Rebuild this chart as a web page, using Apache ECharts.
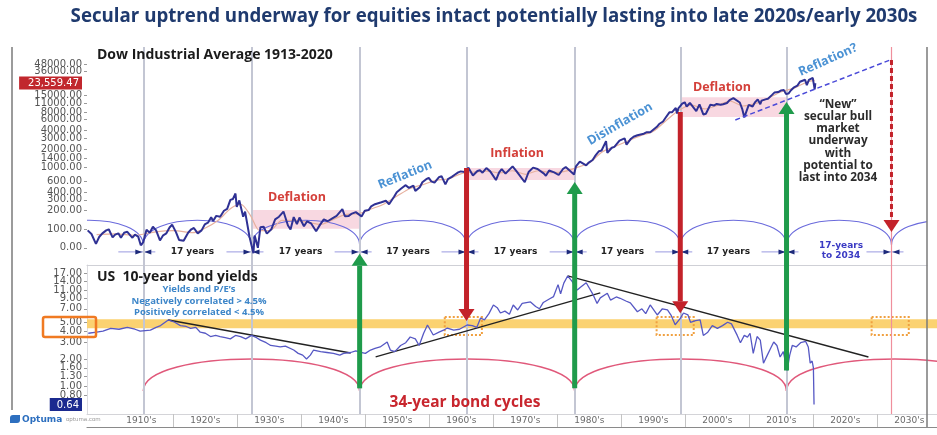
<!DOCTYPE html>
<html>
<head>
<meta charset="utf-8">
<script src="https://cdn.jsdelivr.net/npm/echarts@6/dist/echarts.min.js"></script>
<style>html,body{margin:0;padding:0;background:#fff}#chart{width:937px;height:435px}</style>
</head>
<body>
<div id="chart"></div>
<script>
// ---------------- data ----------------
// Dow Jones Industrial Average, [year, level]
const dow = [
[1906.6,96],[1907.2,84],[1907.9,58],[1908.4,75],[1908.9,86],[1909.5,96],[1909.9,100],[1910.5,74],[1910.9,82],[1911.4,86],[1911.8,73],[1912.3,88],[1912.8,91],[1913.3,79],[1913.6,73],[1914.0,82],[1914.5,76],[1914.9,55],[1915.3,62],[1915.8,98],[1916.3,88],[1916.8,110],[1917.3,96],[1917.9,66],[1918.4,80],[1918.9,86],[1919.4,107],[1919.8,119],[1920.4,90],[1920.9,67],[1921.6,65],[1922.3,88],[1922.8,100],[1923.2,105],[1923.8,86],[1924.4,96],[1924.9,120],[1925.4,128],[1925.9,157],[1926.2,136],[1926.7,165],[1927.3,160],[1927.9,200],[1928.4,215],[1928.9,300],[1929.3,310],[1929.7,381],[1929.9,230],[1930.3,294],[1930.9,160],[1931.2,194],[1931.9,75],[1932.5,41],[1932.7,79],[1933.2,50],[1933.6,108],[1934.1,110],[1934.6,85],[1935.3,100],[1935.9,145],[1936.5,160],[1937.2,194],[1937.9,115],[1938.3,99],[1938.8,158],[1939.3,121],[1939.7,155],[1940.4,112],[1940.9,135],[1941.5,125],[1942.3,93],[1942.9,118],[1943.5,145],[1944.1,135],[1944.9,152],[1945.5,165],[1946.4,212],[1946.8,163],[1947.4,165],[1947.9,180],[1948.5,190],[1949.4,162],[1949.9,200],[1950.5,205],[1950.9,235],[1951.5,255],[1952.5,275],[1953.2,290],[1953.7,255],[1954.5,340],[1954.9,400],[1955.5,450],[1955.9,485],[1956.3,520],[1956.8,470],[1957.5,510],[1957.8,420],[1958.5,480],[1958.9,580],[1959.5,650],[1959.9,680],[1960.3,600],[1960.8,570],[1961.5,700],[1961.9,730],[1962.5,535],[1962.9,650],[1963.5,710],[1963.9,760],[1964.5,840],[1964.9,870],[1965.5,850],[1966.1,995],[1966.8,745],[1967.5,880],[1967.9,905],[1968.3,830],[1968.9,985],[1969.5,870],[1970.4,630],[1970.9,840],[1971.3,950],[1971.9,800],[1972.5,930],[1973.0,1050],[1973.6,880],[1973.9,850],[1974.9,580],[1975.5,850],[1976.2,1000],[1976.9,950],[1977.9,800],[1978.2,740],[1978.7,900],[1979.5,840],[1980.2,760],[1980.9,960],[1981.3,1020],[1982.6,777],[1982.9,1050],[1983.5,1250],[1984.5,1090],[1984.9,1210],[1985.5,1330],[1985.9,1550],[1986.5,1850],[1986.9,1900],[1987.6,2700],[1987.8,1740],[1988.5,2100],[1988.9,2170],[1989.7,2750],[1990.5,2990],[1990.8,2365],[1991.5,2950],[1991.9,3170],[1992.5,3350],[1993.5,3550],[1993.9,3750],[1994.5,3750],[1995.5,4550],[1995.9,5100],[1996.5,5600],[1996.9,6450],[1997.5,7900],[1997.9,7900],[1998.5,9300],[1998.7,7540],[1998.9,9180],[1999.5,10900],[1999.9,11500],[2000.2,9800],[2000.7,11200],[2001.0,10800],[2001.7,8240],[2002.2,10600],[2002.8,7290],[2003.2,7500],[2003.9,10450],[2004.5,10200],[2004.9,10780],[2005.5,10500],[2005.9,10700],[2006.5,11200],[2006.9,12460],[2007.5,13400],[2007.8,14160],[2008.5,11400],[2008.9,8800],[2009.2,6550],[2009.9,10400],[2010.5,9800],[2010.9,11570],[2011.3,12800],[2011.7,10700],[2011.9,12200],[2012.5,12800],[2012.9,13100],[2013.5,15000],[2013.9,16500],[2014.5,16800],[2014.9,17800],[2015.4,18100],[2015.7,15700],[2016.1,15900],[2016.5,18000],[2016.9,19800],[2017.5,21400],[2017.9,24700],[2018.1,26600],[2018.2,23500],[2018.7,26700],[2018.97,21800],[2019.3,26500],[2019.6,25500],[2019.9,28500],[2020.1,29400],[2020.2,18600],[2020.3,23559.47]
];
// smoothed Dow trend
const dowAvg = [
[1908,82],[1911,84],[1914,80],[1917,90],[1920,95],[1923,88],[1925,105],[1927,140],[1929,220],[1930.5,255],[1932,170],[1933.5,95],[1935,95],[1937,140],[1939,140],[1941,130],[1943,120],[1945,145],[1947,175],[1949,180],[1951,215],[1953,260],[1955,350],[1957,460],[1959,530],[1961,620],[1963,660],[1965,800],[1967,850],[1969,880],[1971,820],[1973,890],[1975,780],[1977,890],[1979,830],[1981,860],[1983,1000],[1985,1200],[1987,1800],[1989,2200],[1991,2700],[1993,3300],[1995,3900],[1997,5800],[1999,8500],[2001,10300],[2003,9000],[2005,10200],[2007,12000],[2009,10000],[2011,11000],[2013,13500],[2015,17000],[2017,19500],[2019,24500],[2020.2,26000]
];
// US 10-year bond yield (%), [year, yield]
const yields = [
[1906.7,3.8],[1908,3.9],[1909,4.0],[1910.2,4.3],[1911.5,4.2],[1912.8,4.4],[1914,4.2],[1914.8,4.0],[1916.4,4.1],[1917.3,4.4],[1918,4.6],[1919.2,5.3],[1920.2,5.0],[1921.1,4.6],[1922,4.5],[1922.7,4.3],[1923.5,4.4],[1924.2,3.9],[1925,3.8],[1925.8,3.5],[1926.6,3.6],[1927.3,3.5],[1928.1,3.4],[1928.9,3.3],[1929.7,3.6],[1930.5,3.5],[1931.3,3.3],[1932.2,3.6],[1933,3.4],[1933.6,3.2],[1934.5,3.0],[1935.2,2.8],[1936,2.75],[1936.7,2.7],[1937.5,2.75],[1938.8,2.5],[1939.5,2.3],[1940.2,2.2],[1940.8,2.0],[1941.4,2.2],[1941.9,2.5],[1943,2.4],[1944,2.35],[1945,2.3],[1946,2.2],[1946.6,2.3],[1947.7,2.35],[1948.5,2.45],[1949.1,2.37],[1950,2.3],[1950.8,2.5],[1951.5,2.6],[1952.3,2.7],[1953.4,3.05],[1953.9,2.5],[1954.6,2.4],[1955.5,2.8],[1956.3,3.0],[1957,3.46],[1957.8,3.3],[1958.4,2.8],[1959.1,3.8],[1959.7,4.67],[1960.6,3.64],[1961.5,3.9],[1962.2,4.1],[1962.8,4.33],[1963.8,4.1],[1964.7,4.2],[1965.9,4.67],[1966.7,4.6],[1967.4,4.4],[1968,5.56],[1968.6,5.3],[1969.3,6.2],[1970,7.7],[1970.6,7.2],[1971.1,6.3],[1971.8,6.6],[1972.5,6.1],[1973.1,7.7],[1973.8,6.8],[1974.5,8.0],[1975.8,8.3],[1976.6,7.4],[1977.2,7.0],[1977.8,8.2],[1978.8,9.0],[1979.4,9.5],[1980.1,12.8],[1980.5,10.2],[1981,13.3],[1981.6,15.9],[1982.3,13.9],[1983.1,11.2],[1983.6,12.0],[1984.5,13.4],[1985.6,9.9],[1986.2,8.0],[1986.7,9.2],[1987.8,10.3],[1988.3,8.7],[1989.2,9.4],[1989.8,9.1],[1990.7,8.5],[1991.4,8.1],[1992.5,6.5],[1993.2,7.0],[1993.8,6.2],[1994.5,7.7],[1995.6,6.0],[1996.4,7.0],[1997.2,6.8],[1997.8,5.9],[1998.4,4.7],[1999.2,5.5],[1999.7,6.3],[2000.4,6.0],[2000.8,5.0],[2001.6,5.2],[2002.3,5.3],[2002.8,3.6],[2003.5,3.9],[2004.2,4.6],[2005,4.3],[2005.8,4.6],[2006.6,5.0],[2007.2,4.8],[2007.5,4.9],[2008.1,3.6],[2008.6,3.0],[2009.2,3.6],[2009.7,3.45],[2010.1,3.8],[2010.6,2.3],[2011.2,3.5],[2011.7,3.2],[2012.2,1.8],[2012.8,2.2],[2013.3,2.6],[2013.8,3.05],[2014.3,2.8],[2014.8,2.1],[2015.3,2.4],[2015.9,1.5],[2016.3,2.2],[2016.7,2.8],[2017.3,2.7],[2018,3.0],[2018.8,3.1],[2019.2,2.7],[2019.5,1.8],[2019.8,1.9],[2020.0,1.6],[2020.1,0.64]
];

// 17-year equity cycle turning points (years)
const cycleYears = [1915.3, 1932.2, 1949.1, 1965.8, 1982.7, 1999.2, 2015.8, 2032.2];
const cycleSpanLabels = ['17 years','17 years','17 years','17 years','17 years','17 years','17-years\nto 2034'];
// 34-year bond cycle turning points (years)
const bondCycleYears = [1915.3, 1949.1, 1982.7, 2015.8, 2049.6];
// arc levels: [trough, crest]
const dowArcLevels = [55, 140];
const bondArcLevels = [0.9, 2.0];

// secular regimes: [label, from, to, low, high]
const regimes = [
  ['Deflation', 1932.2, 1949.1, 102, 205],
  ['Inflation', 1965.8, 1982.7, 630, 985],
  ['Deflation', 1999.2, 2015.8, 6600, 13900]
];
// rising channel of the new bull market: [year, Dow]
const dowChannel = [[2007.8, 5940], [2032.0, 55800]];

// arrows: [year, Dow end, yield end]
const downArrows = [[1965.8, 985, 5.16], [1999.2, 8000, 6.25]];
const upArrows = [[1949.1, 40, 0.96], [1982.7, 585, 0.96], [2015.8, 11600, 1.5]];
const projectionArrow = [2032.2, 55800, 90];

// yield trend lines: [[year, yield], [year, yield]]
const yieldTrends = [
  [[1919.2, 5.29], [1947.7, 2.32]],
  [[1951.6, 2.10], [1986.7, 10.4]],
  [[1981.6, 15.9], [2028.6, 2.10]]
];
const pivotBand = [4.3, 5.4];
const pivotZones = [1965.3, 1998.4, 2032.0];
const pivotZoneRange = [3.64, 5.7];

// axis ticks
const dowTicks = [48000,36000,15000,11000,8000,6000,4000,3000,2000,1400,1000,600,400,300,200,100,50];
const dowTickText = ['48000.00','36000.00','15000.00','11000.00','8000.00','6000.00','4000.00','3000.00','2000.00','1400.00','1000.00','600.00','400.00','300.00','200.00','100.00','0.00'];
const dowLast = 23559.47;
const yieldTicks = [17,14,11,9,7,5,4,3,2,1.6,1.3,1,0.8];
const yieldTickText = ['17.00','14.00','11.00','9.00','7.00','5.00','4.00','3.00','2.00','1.60','1.30','1.00','0.80'];
const yieldLast = 0.64;
const decadeBounds = [1920,1930,1940,1950,1960,1970,1980,1990,2000,2010,2020,2030];
const decadeCenters = [1915,1925,1935,1945,1955,1965,1975,1985,1995,2005,2015,2025,2035];
const decadeLabels = ["1910's","1920's","1930's","1940's","1950's","1960's","1970's","1980's","1990's","2000's","2010's","2020's","2030's"];

// ---------------- chart ----------------
const L = Math.log10;
const X_MIN = 1906.5, PX_PER_YEAR = 6.4;
const UP_W = 840, LOW_W = 850;
const X_MAX_UP = X_MIN + UP_W / PX_PER_YEAR;
const X_MAX_LOW = X_MIN + LOW_W / PX_PER_YEAR;
const UP_RANGE = [1.4209, 4.957], LOW_RANGE = [-0.296, 1.320];

const FONT = '"Open Sans", "DejaVu Sans", sans-serif';
const near = (a, b) => Math.abs(a - b) < 1e-6;
const fmt2 = v => v.toLocaleString('en-US', {minimumFractionDigits: 2, maximumFractionDigits: 2});

function tickFormatter(ticks, texts, last, richKey) {
  return function (v) {
    if (near(v, L(last))) return '{' + richKey + '|' + fmt2(last) + '}';
    for (let i = 0; i < ticks.length; i++) if (near(v, L(ticks[i]))) return texts[i];
    return '';
  };
}
// the scale labels sit closely, so they are spread over two stacked axes (alternate labels)
function splitLabels(ticks, last) {
  const all = ticks.concat([last]).sort((a, b) => b - a);
  return [all.filter((_, i) => i % 2 === 0).map(L), all.filter((_, i) => i % 2 === 1).map(L)];
}
const dowLabelSets = splitLabels(dowTicks, dowLast);
const yieldLabelSets = splitLabels(yieldTicks, yieldLast);

const chart = echarts.init(document.getElementById('chart'), null, {renderer: 'canvas'});

function arcSeries(gridIdx, years, levels, color, width, z) {
  const segs = [];
  for (let i = 0; i < years.length - 1; i++) segs.push([years[i], years[i + 1], L(levels[0]), L(levels[1])]);
  return {
    type: 'custom', xAxisIndex: gridIdx, yAxisIndex: gridIdx, clip: true, silent: true, z,
    data: segs, encode: {x: [0, 1], y: [2, 3]},
    renderItem(params, api) {
      const a = api.coord([api.value(0), api.value(2)]);
      const b = api.coord([api.value(1), api.value(2)]);
      const c = api.coord([api.value(0), api.value(3)]);
      const h = (a[1] - c[1]) * 4 / 3;
      return {type: 'bezierCurve',
        shape: {x1: a[0], y1: a[1], x2: b[0], y2: b[1], cpx1: a[0], cpy1: a[1] - h, cpx2: b[0], cpy2: b[1] - h},
        style: {stroke: color, fill: 'none', lineWidth: width}};
    }
  };
}

const spanSegs = cycleYears.slice(0, -1).map((y, i) => [y, cycleYears[i + 1], i]);
const markerLevel = L(43);

function scaleAxis(gridIndex, range, labelValues, tickValues, formatter, rich, showLine) {
  return {gridIndex, type: 'value', position: 'left', offset: 0, min: range[0], max: range[1], splitLine: {show: false},
    axisLine: {show: showLine, onZero: false, lineStyle: {color: '#dcdce0'}},
    axisTick: {show: tickValues.length > 0, customValues: tickValues, length: 3, lineStyle: {color: '#9a9a9a'}},
    axisLabel: {customValues: labelValues, margin: 5, color: '#555', fontSize: 10, fontFamily: 'DejaVu Sans',
      hideOverlap: false, showMinLabel: true, showMaxLabel: true, formatter, rich}};
}
const dowFmt = tickFormatter(dowTicks, dowTickText, dowLast, 'hl');
const yieldFmt = tickFormatter(yieldTicks, yieldTickText, yieldLast, 'lo');
const dowRich = {hl: {backgroundColor: '#c1272d', color: '#fff', fontSize: 10, fontFamily: 'DejaVu Sans', padding: [2, 3, 1, 9]}};
const yieldRich = {lo: {backgroundColor: '#1b2a8f', color: '#fff', fontSize: 10, fontFamily: 'DejaVu Sans', padding: [2, 3, 1, 7]}};

const option = {
  animation: false,
  textStyle: {fontFamily: FONT},
  grid: [
    {left: 87, top: 47, width: UP_W, height: 218, outerBoundsMode: 'none'},
    {left: 87, top: 265, width: LOW_W, height: 149, outerBoundsMode: 'none'},
    {left: 87, top: 414, width: LOW_W, height: 13, outerBoundsMode: 'none'}
  ],
  xAxis: [
    {gridIndex: 0, type: 'value', min: X_MIN, max: X_MAX_UP, axisLine: {show: true, onZero: false, lineStyle: {color: '#cfd0d6', width: 1}},
      axisTick: {show: false}, axisLabel: {show: false}, splitLine: {show: false}},
    {gridIndex: 1, type: 'value', min: X_MIN, max: X_MAX_LOW, axisLine: {show: true, onZero: false, lineStyle: {color: '#d4d4d8', width: 1}},
      axisTick: {show: false}, axisLabel: {show: false}, splitLine: {show: false}},
    {gridIndex: 2, type: 'value', min: X_MIN, max: X_MAX_LOW, axisLine: {show: true, onZero: false, lineStyle: {color: '#8a8a8a', width: 1.2}},
      axisTick: {show: true, customValues: decadeBounds, inside: true, length: 13, lineStyle: {color: '#c4c4c4'}},
      axisLabel: {customValues: decadeCenters, inside: true, margin: 2, color: '#6a6a6a', fontSize: 9, fontFamily: 'DejaVu Sans',
        hideOverlap: false, showMinLabel: true, showMaxLabel: true,
        formatter: v => decadeLabels[decadeCenters.findIndex(c => near(c, v))] || ''},
      splitLine: {show: false}}
  ],
  yAxis: [
    scaleAxis(0, UP_RANGE, dowLabelSets[0], dowTicks.map(L), dowFmt, dowRich, false),
    scaleAxis(1, LOW_RANGE, yieldLabelSets[0], yieldTicks.map(L), yieldFmt, yieldRich, true),
    {gridIndex: 2, type: 'value', min: 0, max: 1, show: false},
    scaleAxis(0, UP_RANGE, dowLabelSets[1], [], dowFmt, dowRich, false),
    scaleAxis(1, LOW_RANGE, yieldLabelSets[1], [], yieldFmt, yieldRich, false)
  ],
  series: [
    // cycle verticals, upper panel
    {type: 'line', xAxisIndex: 0, yAxisIndex: 0, data: [], z: 1, silent: true,
      markLine: {silent: true, symbol: ['none', 'none'], label: {show: false},
        data: cycleYears.map((y, i) => ({xAxis: y, lineStyle: i === cycleYears.length - 1
          ? {color: '#ef8f9c', width: 1.2, type: 'solid'} : {color: '#c3c6d3', width: 2, type: 'solid'}}))}},
    // cycle verticals, lower panel
    {type: 'line', xAxisIndex: 1, yAxisIndex: 1, data: [], z: 1, silent: true,
      markLine: {silent: true, symbol: ['none', 'none'], label: {show: false},
        data: cycleYears.map((y, i) => ({xAxis: y, lineStyle: i === cycleYears.length - 1
          ? {color: '#ef8f9c', width: 1.2, type: 'solid'} : {color: '#c3c6d3', width: 2, type: 'solid'}}))}},
    // regime shading
    {type: 'line', xAxisIndex: 0, yAxisIndex: 0, data: [], z: 1, silent: true,
      markArea: {silent: true, label: {show: false}, itemStyle: {color: 'rgba(240,168,188,0.45)'},
        data: regimes.map(r => [{xAxis: r[1], yAxis: L(r[4])}, {xAxis: r[2], yAxis: L(r[3])}])}},
    // pivot band and zones, lower panel
    {type: 'line', xAxisIndex: 1, yAxisIndex: 1, data: [], z: 1, silent: true,
      markArea: {silent: true, label: {show: false},
        data: [[{xAxis: X_MIN, yAxis: L(pivotBand[1]), itemStyle: {color: '#fbd271'}}, {xAxis: X_MAX_LOW, yAxis: L(pivotBand[0])}]]
          .concat(pivotZones.map(c => [{xAxis: c - 2.9, yAxis: L(pivotZoneRange[1]),
            itemStyle: {color: 'rgba(0,0,0,0)', borderColor: '#f0a040', borderWidth: 2, borderType: 'dotted'}},
            {xAxis: c + 2.9, yAxis: L(pivotZoneRange[0])}]))}},
    arcSeries(0, [1898.4].concat(cycleYears, [2049.1]), dowArcLevels, '#6b6bdc', 1.1, 3),
    arcSeries(1, bondCycleYears, bondArcLevels, '#e0587a', 1.5, 3),
    // dimension markers at cycle lines
    {type: 'custom', xAxisIndex: 0, yAxisIndex: 0, silent: true, z: 4, data: cycleYears.map(y => [y, markerLevel]),
      renderItem(params, api) {
        const p = api.coord([api.value(0), api.value(1)]);
        return {type: 'group', children: [
          {type: 'line', shape: {x1: p[0] - 25, y1: p[1], x2: p[0] + 12, y2: p[1]}, style: {stroke: '#9a9ae0', lineWidth: 1}},
          {type: 'polygon', shape: {points: [[p[0] - 8, p[1] - 2.5], [p[0] - 8, p[1] + 2.5], [p[0] - 1, p[1]]]}, style: {fill: '#1d2a7a'}},
          {type: 'polygon', shape: {points: [[p[0] + 8, p[1] - 2.5], [p[0] + 8, p[1] + 2.5], [p[0] + 1, p[1]]]}, style: {fill: '#1d2a7a'}}
        ]};
      }},
    // span labels between cycle lines
    {type: 'custom', xAxisIndex: 0, yAxisIndex: 0, silent: true, z: 4, data: spanSegs.map(s => [s[0], s[1], s[2]]),
      renderItem(params, api) {
        const a = api.coord([api.value(0), markerLevel]);
        const b = api.coord([api.value(1), markerLevel]);
        const idx = api.value(2);
        const last = idx === spanSegs.length - 1;
        return {type: 'text', x: (a[0] + b[0]) / 2 - (last ? -2 : 5), y: a[1] - (last ? 1 : 0),
          style: {text: cycleSpanLabels[idx], fill: last ? '#3b3bc4' : '#222', font: 'bold 9px "DejaVu Sans", sans-serif',
            align: 'center', verticalAlign: 'middle', lineHeight: 10}};
      }},
    // Dow smoothed trend
    {type: 'line', xAxisIndex: 0, yAxisIndex: 0, z: 5, showSymbol: false, silent: true, smooth: 0.3,
      data: dowAvg.map(d => [d[0], L(d[1])]), lineStyle: {color: '#e7b09e', width: 1.2}},
    // Dow
    {type: 'line', xAxisIndex: 0, yAxisIndex: 0, z: 6, showSymbol: false, silent: true,
      data: dow.map(d => [d[0], L(d[1])]), lineStyle: {color: '#2f3194', width: 2}},
    // rising channel
    {type: 'line', xAxisIndex: 0, yAxisIndex: 0, z: 6, showSymbol: false, silent: true,
      data: dowChannel.map(d => [d[0], L(d[1])]), lineStyle: {color: '#4a4ad8', width: 1.5, type: [5, 3]}},
    // yield trend lines
    ...yieldTrends.map(t => ({type: 'line', xAxisIndex: 1, yAxisIndex: 1, z: 6, showSymbol: false, silent: true,
      data: t.map(d => [d[0], L(d[1])]), lineStyle: {color: '#222', width: 1.3}})),
    // 10-year yield
    {type: 'line', xAxisIndex: 1, yAxisIndex: 1, z: 7, showSymbol: false, silent: true,
      data: yields.map(d => [d[0], L(d[1])]), lineStyle: {color: '#5658c4', width: 1.3}}
  ]
};
chart.setOption(option);

// ---------------- annotations ----------------
const p0 = (x, v) => chart.convertToPixel({gridIndex: 0}, [x, L(v)]);
const p1 = (x, v) => chart.convertToPixel({gridIndex: 1}, [x, L(v)]);

function arrow(x, yFrom, yTip, color, dashed) {
  const dir = yTip > yFrom ? 1 : -1;
  const headLen = 12, headHalf = 8, shaft = 5;
  const yBase = yTip - dir * headLen;
  const kids = [];
  if (dashed) {
    kids.push({type: 'line', z: 60, shape: {x1: x, y1: yFrom, x2: x, y2: yBase}, style: {stroke: color, lineWidth: 3, lineDash: [5, 3]}});
  } else {
    kids.push({type: 'rect', z: 60, shape: {x: x - shaft / 2, y: Math.min(yFrom, yBase), width: shaft, height: Math.abs(yBase - yFrom)}, style: {fill: color}});
  }
  kids.push({type: 'polygon', z: 60, shape: {points: [[x - headHalf, yBase], [x + headHalf, yBase], [x, yTip]]}, style: {fill: color}});
  return {type: 'group', z: 60, children: kids};
}

const g = [];
downArrows.forEach(a => {
  const top = p0(a[0], a[1]), tip = p1(a[0], a[2]);
  g.push(arrow(top[0], top[1], tip[1], '#c3222a', false));
});
upArrows.forEach(a => {
  const tip = p0(a[0], a[1]), bot = p1(a[0], a[2]);
  g.push(arrow(tip[0], bot[1], tip[1], '#1f9b4b', false));
});
{
  const top = p0(projectionArrow[0], projectionArrow[1]), tip = p0(projectionArrow[0], projectionArrow[2]);
  g.push(arrow(top[0], top[1], tip[1], '#c3222a', true));
}

function txt(text, x, y, font, fill, opts) {
  return Object.assign({type: 'text', z: 70, x, y,
    style: Object.assign({text, font, fill, align: 'center', verticalAlign: 'middle'}, (opts && opts.style) || {})},
    opts && opts.rotation !== undefined ? {rotation: opts.rotation} : {});
}
const deg = d => d * Math.PI / 180;
const RED = '#d4403a', BLUE = '#4b92d4';
const annFont = 'bold 12.5px ' + FONT;

g.push(txt('Secular uptrend underway for equities intact potentially lasting into late 2020s/early 2030s', 494, 17,
  'bold 18.7px "Open Sans", sans-serif', '#1f3a6e'));
g.push(txt('Dow Industrial Average 1913-2020', 97, 55, 'bold 14px ' + FONT, '#1b1b1b', {style: {align: 'left'}}));
g.push(txt('Deflation', 297, 197, annFont, RED));
g.push(txt('Reflation', 405, 175, annFont, BLUE, {rotation: deg(22)}));
g.push(txt('Inflation', 517, 153, annFont, RED));
g.push(txt('Disinflation', 620, 124, annFont, BLUE, {rotation: deg(30)}));
g.push(txt('Deflation', 722, 87, annFont, RED));
g.push(txt('Reflation?', 828, 60, annFont, BLUE, {rotation: deg(24)}));
g.push(txt('\u201CNew\u201D\nsecular bull\nmarket\nunderway\nwith\npotential to\nlast into 2034', 838, 98,
  'bold 11.8px ' + FONT, '#2b2b2b', {style: {verticalAlign: 'top', lineHeight: 12.3}}));

g.push(txt('US  10-year bond yields', 97, 277, 'bold 14px ' + FONT, '#1b1b1b', {style: {align: 'left'}}));
g.push(txt('Yields and P/E\u2019s', 199, 289, 'bold 9.5px ' + FONT, '#3d86c9'));
g.push(txt('Negatively correlated > 4.5%', 199, 301, 'bold 9.5px ' + FONT, '#3d86c9'));
g.push(txt('Positively correlated < 4.5%', 199, 312, 'bold 9.5px ' + FONT, '#3d86c9'));
g.push(txt('34-year bond cycles', 465, 403, 'bold 15.5px ' + FONT, '#c8262e'));

// outline around the 4-5% yield labels
{
  const a = p1(X_MIN, pivotZoneRange[1]), b = p1(X_MIN, 3.46);
  g.push({type: 'rect', z: 70, shape: {x: 43, y: a[1], width: 53, height: b[1] - a[1], r: 2},
    style: {fill: 'none', stroke: '#f07a22', lineWidth: 2.5}});
}
// frame
g.push({type: 'line', z: 40, shape: {x1: 12, y1: 47, x2: 12, y2: 410}, style: {stroke: '#7a7a7a', lineWidth: 1.5}});
g.push({type: 'line', z: 40, shape: {x1: 927, y1: 47, x2: 927, y2: 427}, style: {stroke: '#7a7a7a', lineWidth: 1.5}});
// vendor mark
g.push({type: 'rect', z: 70, shape: {x: 10, y: 415, width: 10, height: 8, r: [3, 0, 3, 0]}, style: {fill: '#2d6fbf'}});
g.push(txt('Optuma', 22, 419.5, 'bold 9px "DejaVu Sans", sans-serif', '#2d6fbf', {style: {align: 'left'}}));
g.push(txt('optuma.com', 66, 419.5, '5.5px "DejaVu Sans", sans-serif', '#999', {style: {align: 'left'}}));

chart.setOption({graphic: {elements: g}});
</script>
</body>
</html>
